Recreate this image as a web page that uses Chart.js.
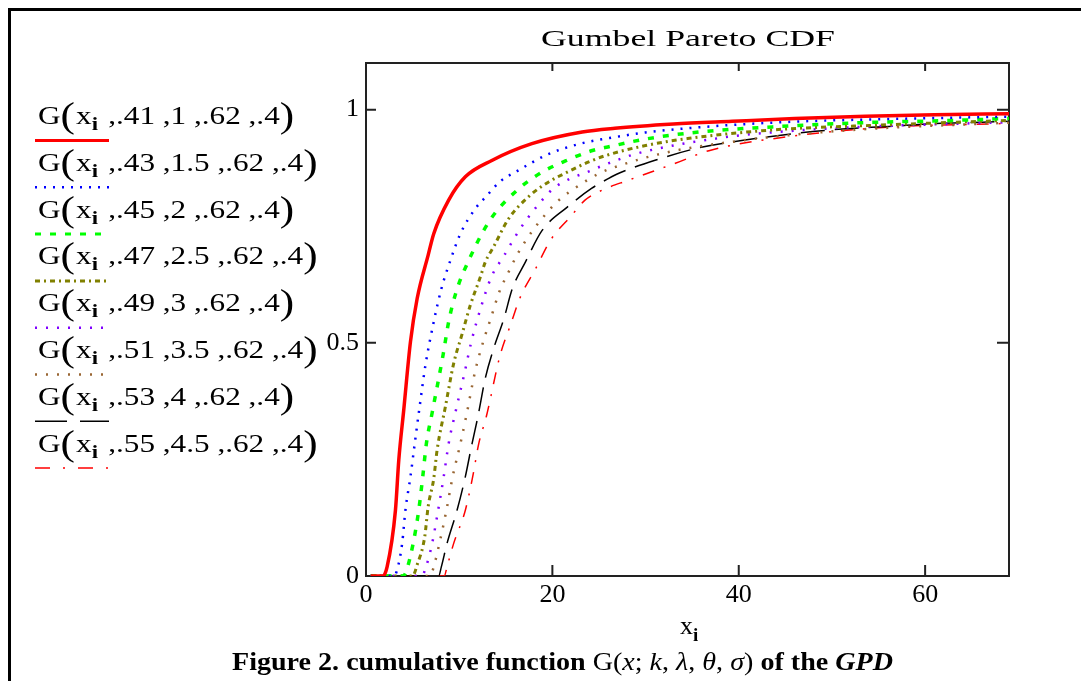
<!DOCTYPE html>
<html>
<head>
<meta charset="utf-8">
<script src="https://cdn.jsdelivr.net/npm/chart.js@4"></script>
<style>
  html, body { margin: 0; padding: 0; background: #fff; }
  #wrap { position: relative; width: 1081px; height: 681px; overflow: hidden; }
  #chart, #overlay { position: absolute; left: 0; top: 0; }
  #overlay { font-family: "Liberation Serif", "DejaVu Serif", serif; }
</style>
</head>
<body>
<div id="wrap">
  <canvas id="chart" width="1081" height="681"></canvas>
  <svg id="overlay" width="1081" height="681" xmlns="http://www.w3.org/2000/svg"></svg>
</div>
<script>
// values: x_i and G for each curve
const g41X = [0.5, 1.8, 2.27, 3.16, 3.52, 4.05, 4.77, 5.49, 6.67, 7.27, 8.87, 10.66, 13.5, 17.8, 23.2, 26.7, 33, 39.3, 46, 53.6, 61, 69];
const g41Y = [0, 0, 0.02, 0.141, 0.249, 0.356, 0.502, 0.595, 0.688, 0.734, 0.806, 0.856, 0.891, 0.927, 0.952, 0.960, 0.969, 0.975, 0.981, 0.986, 0.989, 0.991];

const g43X = [0.5, 3.0, 3.34, 3.88, 4.23, 4.77, 5.23, 5.66, 6.38, 7.27, 8.09, 9.06, 10.13, 11.74, 12.9, 14.4, 16.2, 19.5, 23.0, 26.7, 30, 35.0, 44.5, 54.1, 63.8, 69];
const g43Y = [0, 0, 0.013, 0.07, 0.141, 0.213, 0.284, 0.349, 0.452, 0.545, 0.616, 0.677, 0.734, 0.788, 0.814, 0.846, 0.868, 0.904, 0.927, 0.941, 0.951, 0.961, 0.973, 0.979, 0.983, 0.985];

const g45X = [0.5, 4.0, 4.41, 5.06, 5.66, 6.09, 6.48, 7.1, 8.27, 8.87, 9.67, 11.1, 13.3, 16.2, 18.9, 21.4, 24.4, 26.2, 30, 35.7, 43.6, 53.2, 63.1, 69];
const g45Y = [0, 0, 0.016, 0.07, 0.141, 0.213, 0.284, 0.35, 0.474, 0.545, 0.609, 0.68, 0.763, 0.827, 0.866, 0.890, 0.913, 0.921, 0.937, 0.952, 0.963, 0.972, 0.977, 0.981];

const g47X = [0.5, 5.0, 5.49, 6.3, 6.67, 7.27, 7.63, 8.52, 9.41, 10.3, 11.2, 12.27, 12.8, 13.7, 15.3, 17.6, 19.6, 21.6, 23.9, 25.8, 30, 34.5, 44.0, 54.0, 63.4, 69];
const g47Y = [0, 0, 0.024, 0.084, 0.149, 0.209, 0.27, 0.363, 0.456, 0.518, 0.581, 0.641, 0.673, 0.706, 0.766, 0.816, 0.845, 0.866, 0.888, 0.902, 0.923, 0.938, 0.957, 0.966, 0.973, 0.977];

const g49X = [0.5, 6.0, 6.38, 7.1, 7.74, 8.34, 8.87, 9.63, 10.6, 11.3, 12.3, 13.45, 14.85, 16.56, 18.9, 20.3, 24.2, 26.7, 29.1, 38.6, 46.8, 54.3, 63.8, 69];
const g49Y = [0, 0, 0.016, 0.07, 0.141, 0.213, 0.284, 0.354, 0.438, 0.502, 0.574, 0.641, 0.688, 0.745, 0.806, 0.834, 0.870, 0.890, 0.906, 0.941, 0.956, 0.964, 0.970, 0.973];

const g51X = [0.5, 6.9, 7.27, 7.88, 8.63, 9.3, 10.13, 10.85, 11.7, 12.6, 13.45, 14.3, 15.4, 16.2, 17.4, 19.2, 20.7, 22.6, 25.0, 27.2, 32.2, 40, 48, 56, 64, 69];
const g51Y = [0, 0, 0.02, 0.07, 0.141, 0.213, 0.284, 0.352, 0.438, 0.504, 0.556, 0.609, 0.656, 0.688, 0.727, 0.774, 0.806, 0.834, 0.863, 0.880, 0.908, 0.933, 0.950, 0.961, 0.968, 0.972];

const g53X = [0.5, 7.8, 8.09, 8.7, 9.77, 10.66, 11.38, 12.0, 12.8, 13.7, 14.8, 15.7, 17.1, 18.9, 21.6, 24.2, 26.0, 27.2, 31.1, 35.7, 41.8, 46.5, 51.5, 56.1, 60.8, 66.1, 69];
const g53Y = [0, 0, 0.02, 0.07, 0.141, 0.213, 0.284, 0.341, 0.424, 0.488, 0.552, 0.616, 0.673, 0.741, 0.791, 0.831, 0.852, 0.864, 0.892, 0.918, 0.938, 0.950, 0.959, 0.964, 0.970, 0.973, 0.975];

const g55X = [0.5, 8.4, 8.7, 9.41, 10.66, 11.45, 12.1, 12.9, 14.4, 15.5, 16.56, 18.2, 19.8, 22.1, 23.5, 25.3, 28.2, 33.2, 36.8, 46.5, 56.5, 67.9, 69];
const g55Y = [0, 0, 0.02, 0.07, 0.141, 0.213, 0.284, 0.341, 0.474, 0.538, 0.598, 0.659, 0.72, 0.774, 0.806, 0.827, 0.849, 0.885, 0.912, 0.945, 0.963, 0.970, 0.971];

// legend parameters (k, lambda), theta and sigma are shared
const kLabels = ['.41', '.43', '.45', '.47', '.49', '.51', '.53', '.55'];
const lamLabels = ['1', '1.5', '2', '2.5', '3', '3.5', '4', '4.5'];
const thetaLabel = '.62';
const sigmaLabel = '.4';

const xTicks = [0, 20, 40, 60];
const yTicks = [0, 0.5, 1];

// sample = dash used for the little legend line when it differs from the curve
const curves = [
  { xs: g41X, ys: g41Y, color: '#ff0000', width: 3.5, dash: [] },
  { xs: g43X, ys: g43Y, color: '#0000ff', width: 2.5, dash: [2, 7] },
  { xs: g45X, ys: g45Y, color: '#00ff00', width: 3.5, dash: [6, 9] },
  { xs: g47X, ys: g47Y, color: '#808000', width: 3, dash: [5, 4, 2, 4] },
  { xs: g49X, ys: g49Y, color: '#8000ff', width: 2.5, dash: [2, 9] },
  { xs: g51X, ys: g51Y, color: '#996633', width: 2.5, dash: [2, 9] },
  { xs: g53X, ys: g53Y, color: '#000000', width: 1.5, dash: [24, 10], sample: [32, 13] },
  { xs: g55X, ys: g55Y, color: '#ff0000', width: 1.5, dash: [12, 10, 2, 10], sample: [15, 13, 2, 13] }
];

const datasets = curves.map((c, i) => ({
  label: 'G(xi,' + kLabels[i] + ',' + lamLabels[i] + ',' + thetaLabel + ',' + sigmaLabel + ')',
  data: c.xs.map((x, j) => ({ x: x, y: c.ys[j] })),
  borderColor: c.color,
  borderWidth: c.width,
  borderDash: c.dash,
  pointRadius: 0,
  fill: false,
  cubicInterpolationMode: 'monotone'
}));

// box and inward ticks on all four sides
const framePlugin = {
  id: 'frame',
  beforeDatasetsDraw(chart) {
    const { ctx, chartArea: a, scales: { x, y } } = chart;
    ctx.save();
    ctx.strokeStyle = '#222';
    ctx.lineWidth = 2;
    ctx.strokeRect(a.left, a.top, a.right - a.left, a.bottom - a.top);
    ctx.beginPath();
    x.ticks.forEach(t => {
      if (t.value <= x.min) return;
      const px = x.getPixelForValue(t.value);
      ctx.moveTo(px, a.bottom); ctx.lineTo(px, a.bottom - 11);
      ctx.moveTo(px, a.top); ctx.lineTo(px, a.top + 8);
    });
    y.ticks.forEach(t => {
      if (t.value <= y.min) return;
      const py = y.getPixelForValue(t.value);
      ctx.moveTo(a.left, py); ctx.lineTo(a.left + 10, py);
      ctx.moveTo(a.right, py); ctx.lineTo(a.right - 12, py);
    });
    ctx.stroke();
    ctx.restore();
  }
};

const tickFont = { family: '"Liberation Serif", serif', size: 26 };

new Chart(document.getElementById('chart').getContext('2d'), {
  type: 'line',
  data: { datasets: datasets },
  options: {
    responsive: false,
    animation: false,
    devicePixelRatio: 1,
    layout: { padding: { left: 326, top: 63, right: 72, bottom: 75 } },
    plugins: { legend: { display: false }, tooltip: { enabled: false }, title: { display: false } },
    scales: {
      x: {
        type: 'linear', min: 0, max: 69,
        grid: { display: false, drawTicks: false },
        border: { display: false },
        afterBuildTicks: s => { s.ticks = xTicks.map(v => ({ value: v })); },
        ticks: { maxRotation: 0, padding: 4, color: '#000', font: tickFont, callback: v => String(v) },
        afterFit: s => { s.height = 30; }
      },
      y: {
        type: 'linear', min: 0, max: 1.1,
        grid: { display: false, drawTicks: false },
        border: { display: false },
        afterBuildTicks: s => { s.ticks = yTicks.map(v => ({ value: v })); },
        ticks: { padding: 7, color: '#000', font: tickFont, callback: v => String(v) },
        afterFit: s => { s.width = 40; }
      }
    }
  },
  plugins: [framePlugin]
});

// texts around the plot
const NS = 'http://www.w3.org/2000/svg';
const svg = document.getElementById('overlay');
function el(name, attrs, parent) {
  const e = document.createElementNS(NS, name);
  for (const k in attrs) e.setAttribute(k, attrs[k]);
  (parent || svg).appendChild(e);
  return e;
}
function tspan(parent, txt, attrs) {
  const t = el('tspan', attrs || {}, parent);
  t.textContent = txt;
  return t;
}

// page border
el('path', { d: 'M9.5 681 L9.5 9.5 L1081 9.5', stroke: '#000', 'stroke-width': 3, fill: 'none' });

// title
const title = el('text', { x: 688, y: 46, 'text-anchor': 'middle', 'font-size': 23, textLength: 294, lengthAdjust: 'spacingAndGlyphs' });
title.textContent = 'Gumbel  Pareto CDF';
title.setAttribute('xml:space', 'preserve');

// legend
curves.forEach((c, i) => {
  const base = 124 + i * 46.8;
  const g = el('g', { transform: 'translate(38,' + base + ') scale(1.2,1)' });
  const t = el('text', { x: 0, y: 0, 'font-size': 26, fill: '#000' }, g);
  tspan(t, 'G');
  tspan(t, '(', { 'font-size': 36, dy: 3 });
  tspan(t, 'x', { dy: -3, dx: 1 });
  tspan(t, 'i', { 'font-size': 19, dy: 6, 'font-weight': 'bold' });
  tspan(t, ' ,' + kLabels[i] + ' ,' + lamLabels[i] + ' ,' + thetaLabel + ' ,' + sigmaLabel, { dy: -6, dx: 2 });
  tspan(t, ')', { 'font-size': 36, dy: 3 });
  const dash = c.sample || c.dash;
  el('line', {
    x1: 35, x2: 109, y1: base + 16.5, y2: base + 16.5,
    stroke: c.color, 'stroke-width': Math.min(c.width, 3),
    'stroke-dasharray': dash.length ? dash.join(' ') : 'none'
  });
});

// x axis title
const xt = el('text', { x: 680, y: 634, 'font-size': 26 });
tspan(xt, 'x');
tspan(xt, 'i', { 'font-size': 19, dy: 7, 'font-weight': 'bold' });

// caption
const cap = el('text', { x: 232, y: 670, 'font-size': 25, 'font-weight': 'bold', textLength: 661, lengthAdjust: 'spacingAndGlyphs' });
tspan(cap, 'Figure 2. cumulative function ');
tspan(cap, 'G(', { 'font-weight': 'normal' });
tspan(cap, 'x', { 'font-weight': 'normal', 'font-style': 'italic' });
tspan(cap, '; ', { 'font-weight': 'normal' });
tspan(cap, 'k', { 'font-weight': 'normal', 'font-style': 'italic' });
tspan(cap, ', ', { 'font-weight': 'normal' });
tspan(cap, 'λ', { 'font-weight': 'normal', 'font-style': 'italic' });
tspan(cap, ', ', { 'font-weight': 'normal' });
tspan(cap, 'θ', { 'font-weight': 'normal', 'font-style': 'italic' });
tspan(cap, ', ', { 'font-weight': 'normal' });
tspan(cap, 'σ', { 'font-weight': 'normal', 'font-style': 'italic' });
tspan(cap, ')', { 'font-weight': 'normal' });
tspan(cap, ' of the ');
tspan(cap, 'GPD', { 'font-style': 'italic' });
</script>
</body>
</html>
